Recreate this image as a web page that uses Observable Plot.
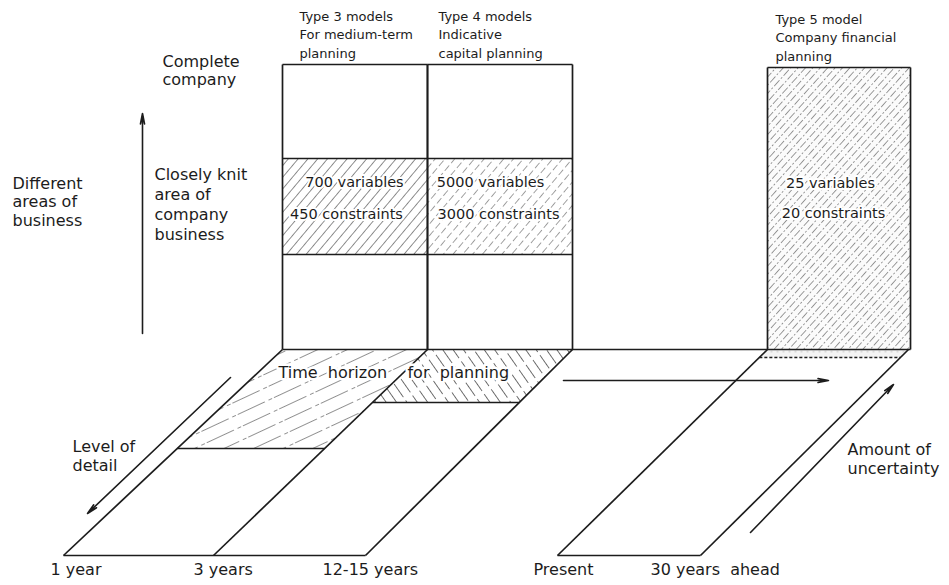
<!DOCTYPE html>
<html><head><meta charset="utf-8">
<script src="https://cdn.jsdelivr.net/npm/d3@7"></script>
<script src="https://cdn.jsdelivr.net/npm/@observablehq/plot@0.6"></script>
<style>body{margin:0;background:#fff}</style>
</head><body><div id="chart"></div>
<script>
// ---------- content ----------
const modelTitles = ["Type 3 models\nFor medium-term\nplanning", "Type 4 models\nIndicative\ncapital planning", "Type 5 model\nCompany financial\nplanning"];
const modelVariables = [700, 5000, 25];
const modelConstraints = [450, 3000, 20];
const businessLabels = ["Complete\ncompany", "Closely knit\narea of\ncompany\nbusiness"];
const axisLabels = ["Different\nareas of\nbusiness", "Level of\ndetail", "Time\u00a0\u00a0horizon\u00a0\u00a0\u00a0\u00a0for\u00a0\u00a0planning", "Amount of\nuncertainty"];
const timeLabels = ["1 year", "3 years", "12-15 years", "Present", "30 years\u00a0\u00a0ahead"];

// ---------- diagram geometry (diagram units) ----------
const wallX0 = [282, 427, 767];
const wallX1 = [427, 572, 910];
const wallTop = [64, 64, 67];
const wallBase = 349;
const bandEdges = [158, 254];
const floorFront = 555;
const floorBackX = [282, 427, 572, 767, 908];
const floorFrontX = [63, 213, 365, 557, 700];
const floorHatchDepth = [448, 402, 357];   // sections 0-1, 1-2, 3-4
const hatchIds = ["floorA", "floorB", "strip"];
const hatchSections = [[0, 1], [1, 2], [3, 4]];

// label anchors
const titleX = [299, 438, 775], titleY = [33, 33, 36];
const varX = [354, 490, 830], varY = [182, 182, 183];
const conX = [346, 498, 833], conY = [214, 214, 213];
const businessX = [162, 154], businessY = [70, 203];
const axisX = [12, 72, 278, 847], axisY = [201, 455, 372, 458];
const timeX = [50, 193, 322, 533, 650], timeY = 569;
const arrowFrom = [[142, 333], [230, 377], [563, 380], [750, 532]];
const arrowTo = [[142, 113], [87, 513], [828, 380], [893, 384]];

// ---------- build mark data ----------
const slantX = (i, y) => floorBackX[i] + (floorFrontX[i] - floorBackX[i]) * (y - wallBase) / (floorFront - wallBase);

const segs = [];
wallX0.forEach((x0, i) => {
  const x1 = wallX1[i], t = wallTop[i];
  segs.push({x1: x0, y1: t, x2: x1, y2: t});
  segs.push({x1: x0, y1: t, x2: x0, y2: wallBase});
  segs.push({x1: x1, y1: t, x2: x1, y2: wallBase});
  if (i < 2) bandEdges.forEach(b => segs.push({x1: x0, y1: b, x2: x1, y2: b}));
});
segs.push({x1: floorBackX[0], y1: wallBase, x2: wallX1[2], y2: wallBase});
floorBackX.forEach((bx, i) => segs.push({x1: bx, y1: wallBase, x2: floorFrontX[i], y2: floorFront}));
segs.push({x1: floorFrontX[0], y1: floorFront, x2: floorFrontX[2], y2: floorFront});
segs.push({x1: floorFrontX[3], y1: floorFront, x2: floorFrontX[4], y2: floorFront});
hatchSections.forEach(([a, b], k) => {
  const d = floorHatchDepth[k];
  segs.push({x1: slantX(a, d), y1: d, x2: slantX(b, d), y2: d, dash: k === 2});
});

const floorPolys = [];
hatchSections.forEach(([a, b], k) => {
  const d = floorHatchDepth[k];
  [[a, wallBase], [b, wallBase], [b, d], [a, d]].forEach(([i, y]) =>
    floorPolys.push({id: hatchIds[k], x: slantX(i, y), y}));
});

const wallFills = [
  {x1: wallX0[0], x2: wallX1[0], y1: bandEdges[0], y2: bandEdges[1], fill: "url(#hatch3)"},
  {x1: wallX0[1], x2: wallX1[1], y1: bandEdges[0], y2: bandEdges[1], fill: "url(#hatch4)"},
  {x1: wallX0[2], x2: wallX1[2], y1: wallTop[2], y2: wallBase, fill: "url(#hatch5)"}
];

const valueTexts = [];
modelVariables.forEach((v, i) => {
  valueTexts.push({t: `${v} variables`, x: varX[i], y: varY[i]});
  valueTexts.push({t: `${modelConstraints[i]} constraints`, x: conX[i], y: conY[i]});
});
const titles = modelTitles.map((t, i) => ({t, x: titleX[i], y: titleY[i]}));
const business = businessLabels.map((t, i) => ({t, x: businessX[i], y: businessY[i]}));
const axes = axisLabels.map((t, i) => ({t, x: axisX[i], y: axisY[i]}));
const times = timeLabels.map((t, i) => ({t, x: timeX[i], y: timeY}));
const arrows = arrowFrom.map((f, i) => ({x1: f[0], y1: f[1], x2: arrowTo[i][0], y2: arrowTo[i][1]}));

const ink = "#1c1c1c";
const FF = "DejaVu Sans";

const chart = Plot.plot({
  width: 949, height: 585, margin: 0,
  x: {domain: [0, 949], range: [0, 949], axis: null},
  y: {domain: [0, 585], range: [0, 585], axis: null},
  style: {fontFamily: FF, background: "white", color: ink},
  marks: [
    Plot.rect(wallFills, {x1: "x1", x2: "x2", y1: "y1", y2: "y2", fill: d => d.fill}),
    Plot.line(floorPolys.filter(d => d.id === "floorA"), {x: "x", y: "y", fill: "url(#floorA)", stroke: "none"}),
    Plot.line(floorPolys.filter(d => d.id === "floorB"), {x: "x", y: "y", fill: "url(#floorB)", stroke: "none"}),
    Plot.line(floorPolys.filter(d => d.id === "strip"), {x: "x", y: "y", fill: "url(#strip)", stroke: "none"}),
    Plot.link(segs.filter(d => !d.dash), {x1: "x1", y1: "y1", x2: "x2", y2: "y2", stroke: ink, strokeWidth: 1.7}),
    Plot.link(segs.filter(d => d.dash), {x1: "x1", y1: "y1", x2: "x2", y2: "y2", stroke: ink, strokeWidth: 1.3, strokeDasharray: "3 2"}),
    Plot.arrow(arrows, {x1: "x1", y1: "y1", x2: "x2", y2: "y2", stroke: ink, strokeWidth: 1.6, headLength: 10, headAngle: 22}),
    // text halos over hatching
    Plot.text(valueTexts, {x: "x", y: "y", text: "t", fontSize: 14.5, fill: "white", stroke: "white", strokeWidth: 4}),
    Plot.text(valueTexts, {x: "x", y: "y", text: "t", fontSize: 14.5, fill: ink}),
    Plot.text(titles, {x: "x", y: "y", text: "t", fontSize: 13, textAnchor: "start", lineHeight: 1.42, fill: ink}),
    Plot.text(business.slice(0, 1), {x: "x", y: "y", text: "t", fontSize: 16, textAnchor: "start", lineHeight: 1.125, fill: ink}),
    Plot.text(business.slice(1), {x: "x", y: "y", text: "t", fontSize: 16, textAnchor: "start", lineHeight: 1.25, fill: ink}),
    Plot.text(axes.slice(2, 3), {x: "x", y: "y", text: "t", fontSize: 16, textAnchor: "start", fill: "white", stroke: "white", strokeWidth: 5}),
    Plot.text(axes, {x: "x", y: "y", text: "t", fontSize: 16, textAnchor: "start", lineHeight: 1.15, fill: ink}),
    Plot.text(times, {x: "x", y: "y", text: "t", fontSize: 16, textAnchor: "start", fill: ink})
  ]
});

// hatch patterns (styling only)
const ns = "http://www.w3.org/2000/svg";
const defs = document.createElementNS(ns, "defs");
defs.innerHTML = `
<pattern id="hatch3" patternUnits="userSpaceOnUse" width="7.5" height="10" patternTransform="rotate(40)">
  <line x1="0" y1="0" x2="0" y2="10" stroke="#333" stroke-width="1.1"/>
</pattern>
<pattern id="hatch4" patternUnits="userSpaceOnUse" width="7.5" height="10" patternTransform="rotate(40)">
  <line x1="0" y1="0" x2="0" y2="10" stroke="#444" stroke-width="1" stroke-dasharray="5 3"/>
</pattern>
<pattern id="hatch5" patternUnits="userSpaceOnUse" width="5.5" height="14" patternTransform="rotate(42)">
  <rect width="5.5" height="14" fill="#fbfbfb"/>
  <line x1="0" y1="0" x2="0" y2="14" stroke="#3a3a3a" stroke-width="1" stroke-dasharray="8 2 2 2"/>
</pattern>
<pattern id="floorA" patternUnits="userSpaceOnUse" width="40" height="12.5" patternTransform="rotate(-25)">
  <line x1="0" y1="0" x2="40" y2="0" stroke="#222" stroke-width="1.1" stroke-dasharray="30 4 4 2"/>
</pattern>
<pattern id="floorB" patternUnits="userSpaceOnUse" width="8.5" height="20" patternTransform="rotate(-35)">
  <line x1="0" y1="0" x2="0" y2="20" stroke="#222" stroke-width="1.3" stroke-dasharray="16 4"/>
</pattern>
<pattern id="strip" patternUnits="userSpaceOnUse" width="6" height="6">
  <rect width="6" height="6" fill="#f4f4f4"/>
  <circle cx="3" cy="3" r="0.6" fill="#888"/>
</pattern>`;
chart.insertBefore(defs, chart.firstChild);
document.getElementById("chart").appendChild(chart);
</script>
</body></html>
